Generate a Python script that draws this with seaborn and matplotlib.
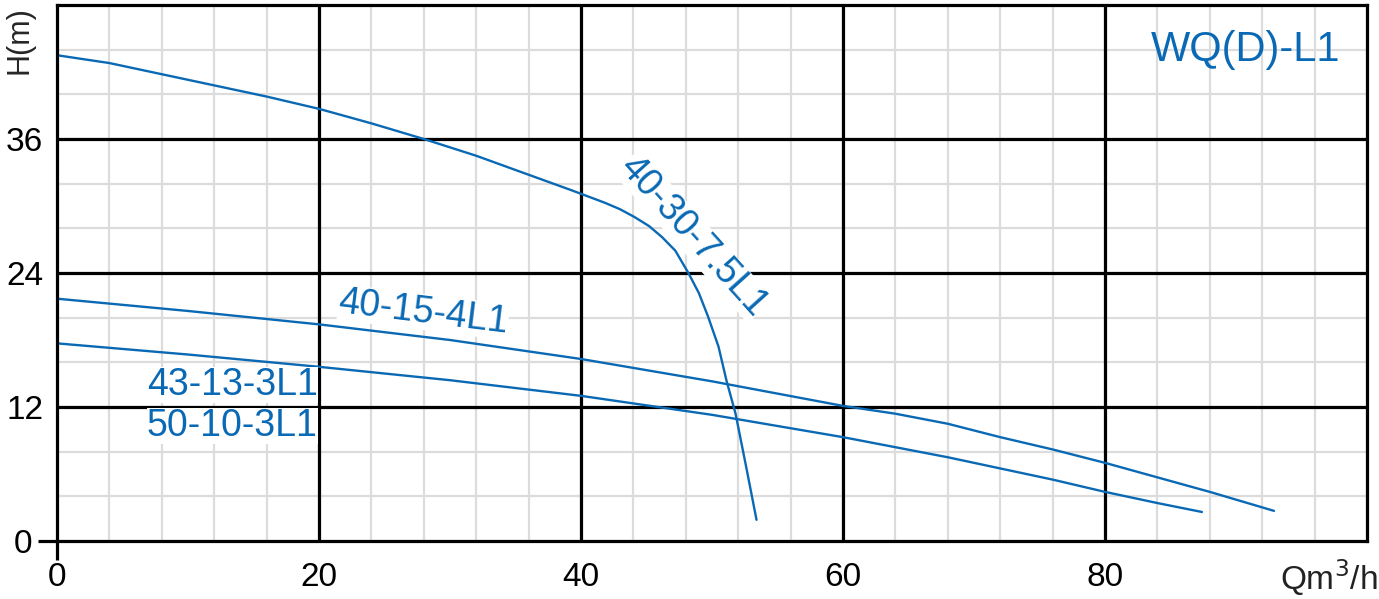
import numpy as np
import pandas as pd
import seaborn as sns
import matplotlib
matplotlib.use('Agg')
import matplotlib.pyplot as plt

# pump curves, flow Q (m3/h) vs head H (m)
q_7_5 = [0, 4, 8, 12, 16, 20, 24, 28, 32, 36, 39.3, 41.8, 43.0, 44.1, 45.2, 46.2, 47.2, 48.2, 49.0, 49.7, 50.5, 51.1, 51.8, 52.6, 53.4]
h_7_5 = [43.5, 42.8, 41.8, 40.8, 39.8, 38.7, 37.4, 36.0, 34.5, 32.8, 31.4, 30.3, 29.7, 29.0, 28.2, 27.2, 26.0, 24.0, 22.2, 20.1, 17.4, 14.4, 11.4, 6.7, 1.9]

q_4 = [0, 10, 20, 30, 40, 50, 60, 64, 68, 72, 76, 80, 84, 88, 92.9]
h_4 = [21.7, 20.6, 19.4, 18.0, 16.3, 14.3, 12.1, 11.4, 10.5, 9.3, 8.2, 7.0, 5.7, 4.4, 2.7]

q_3 = [0, 10, 20, 30, 40, 50, 60, 64, 68, 72, 76, 80, 84, 87.4]
h_3 = [17.7, 16.7, 15.6, 14.4, 13.0, 11.3, 9.3, 8.4, 7.5, 6.5, 5.5, 4.4, 3.4, 2.6]

x_ticks = [0, 20, 40, 60, 80]
y_ticks = [0, 12, 24, 36]
title = "WQ(D)-L1"

BLUE = "#0a69b4"

sns.set_style("white")
plt.rcParams['font.family'] = ['Liberation Sans', 'DejaVu Sans']

df = pd.concat([
    pd.DataFrame({'Q': q_7_5, 'H': h_7_5, 'model': '40-30-7.5L1'}),
    pd.DataFrame({'Q': q_4, 'H': h_4, 'model': '40-15-4L1'}),
    pd.DataFrame({'Q': q_3, 'H': h_3, 'model': '43-13-3L1'}),
])

fig = plt.figure(figsize=(13.79, 5.99), dpi=100)
ax = fig.add_axes([0.0413, 0.0968, 0.95, 0.8949])

# grid: light minor every 4, black major every 20 / 12
for v in np.arange(0, 101, 4):
    ax.axvline(v, color='#dcdcdc', lw=1.6, zorder=0)
for v in np.arange(0, 49, 4):
    ax.axhline(v, color='#dcdcdc', lw=1.6, zorder=0)
for v in x_ticks[1:]:
    ax.axvline(v, color='black', lw=2.3, zorder=1)
for v in y_ticks[1:]:
    ax.axhline(v, color='black', lw=2.3, zorder=1)

sns.lineplot(data=df, x='Q', y='H', units='model', estimator=None, sort=False,
             color=BLUE, lw=1.7, ax=ax, zorder=3)

ax.set_xlim(0, 100)
ax.set_ylim(0, 48)
ax.set_xticks(x_ticks)
ax.set_yticks(y_ticks)
ax.tick_params(axis='both', length=0, labelsize=24, colors='black')
ax.tick_params(axis='x', pad=15)
ax.tick_params(axis='y', pad=10)
ax.yaxis.get_major_ticks()[0].set_pad(18)
ax.set_xlabel('')
ax.set_ylabel('')
for s in ax.spines.values():
    s.set_color('black')
    s.set_linewidth(2.3)
    s.set_zorder(4)

# the axes lines run on a little past the origin
ax.plot([0, 0], [0, -0.036], transform=ax.transAxes, clip_on=False,
        color='black', lw=2.3, solid_capstyle='butt')
ax.plot([0, -0.0145], [0, 0], transform=ax.transAxes, clip_on=False,
        color='black', lw=2.3, solid_capstyle='butt')

lbl = dict(color=BLUE, fontsize=27, zorder=5,
           bbox=dict(facecolor='white', edgecolor='none', pad=0))
ax.text(98.0, 44.0, title, ha='right', va='center', fontsize=30,
        color=BLUE, zorder=5)
ax.text(48.6, 27.3, '40-30-7.5L1', ha='center', va='center', rotation=-48,
        rotation_mode='anchor', **lbl)
ax.text(27.8, 18.9, '40-15-4L1', ha='center', va='bottom', rotation=-7,
        rotation_mode='anchor', **lbl)
ax.text(19.9, 14.0, '43-13-3L1', ha='right', va='center', **lbl)
ax.text(19.9, 10.3, '50-10-3L1', ha='right', va='center', **lbl)

fig.text(0.014, 0.99, 'H(m)', rotation=90, ha='center', va='top', fontsize=22)
fig.text(0.999, 0.035, 'Qm$^3$/h', ha='right', va='center', fontsize=24,
         color='#222222')

fig.savefig('out.png', dpi=100)
